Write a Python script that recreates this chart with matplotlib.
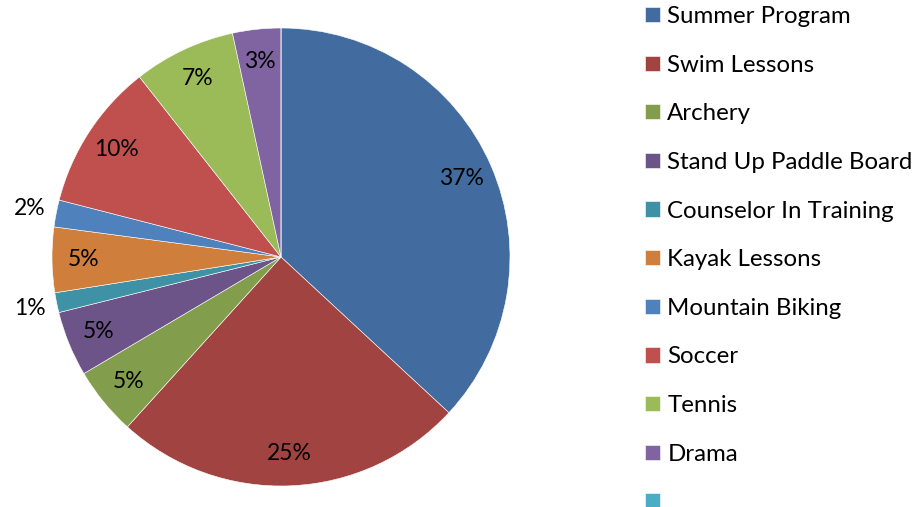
import matplotlib.pyplot as plt
import numpy as np

# data
programs = ["Summer Program", "Swim Lessons", "Archery", "Stand Up Paddle Board",
            "Counselor In Training", "Kayak Lessons", "Mountain Biking", "Soccer",
            "Tennis", "Drama", ""]
shares = [36.9, 24.8, 4.8, 4.6, 1.4, 4.6, 1.9, 10.4, 7.2, 3.4, 0.0]
colors = ["#426c9f", "#a14341", "#829d4b", "#6c5488", "#3f91a6", "#cf7e3b",
          "#4f81bd", "#c0504d", "#9bbb59", "#8064a2", "#4bacc6"]

plt.rcParams['font.family'] = ['Lato', 'DejaVu Sans']

fig = plt.figure(figsize=(9.21, 5.07), dpi=100)
# pie centre (281, 257) px, radius 229 px
ax = fig.add_axes([(281 - 229) / 921, (507 - 257 - 229) / 507, 458 / 921, 458 / 507])
wedges, _ = ax.pie(shares, colors=colors, startangle=90, counterclock=False,
                   wedgeprops=dict(edgecolor="white", linewidth=0.4))
ax.set_xlim(-1, 1)
ax.set_ylim(-1, 1)
ax.set_aspect("equal")

# percentage labels
for w, v in zip(wedges, shares):
    if v == 0:
        continue
    mid = np.deg2rad((w.theta1 + w.theta2) / 2)
    r = 0.86 if v >= 2.5 else 1.12
    ax.text(r * np.cos(mid), r * np.sin(mid), f"{v:.0f}%", ha="center", va="center",
            fontsize=16.5, color="black")

ax.legend(wedges, programs, loc="upper left", bbox_to_anchor=(645 / 921, 1 - 6 / 507),
          bbox_transform=fig.transFigure, frameon=False, fontsize=17.3,
          handlelength=0.63, handleheight=0.6, handletextpad=0.3,
          labelspacing=1.15, borderaxespad=0, borderpad=0)

fig.savefig("out.png", dpi=100)
